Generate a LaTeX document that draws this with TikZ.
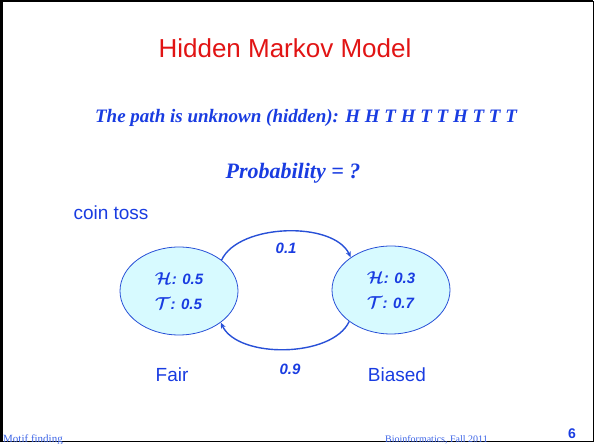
\documentclass[tikz,border=0pt]{standalone}
\usepackage{fontspec}
\setmainfont{Liberation Serif}
\setsansfont{Liberation Sans}
\usepackage{amsmath}
\usetikzlibrary{arrows.meta,shapes.geometric,positioning}
\definecolor{myred}{RGB}{225,20,20}
\definecolor{myblue}{RGB}{25,60,225}
\definecolor{myfoot}{RGB}{60,100,230}
\definecolor{mycyan}{RGB}{215,250,255}
\definecolor{myline}{RGB}{40,80,215}

\tikzset{
  state/.style={ellipse,draw=myline,fill=mycyan,thick,minimum width=118pt,
    minimum height=88pt,inner sep=0pt,align=left,text=myblue,
    font=\sffamily\bfseries\itshape\fontsize{15}{25}\selectfont},
  trans/.style={myline,line width=1.4pt,-{Stealth[length=6pt,width=5pt]},looseness=0.8},
  prob/.style={text=myblue,font=\sffamily\bfseries\itshape\fontsize{15}{17}\selectfont},
  lbl/.style={text=myblue,font=\sffamily\fontsize{19}{22}\selectfont},
  head/.style={text=myblue,font=\bfseries\itshape\fontsize{19}{22}\selectfont},
  foot/.style={text=myfoot,font=\fontsize{11}{12}\selectfont}
}
\newcommand{\bigsym}[1]{{\fontsize{17}{20}\selectfont\boldmath$\mathcal{#1}$}}

\begin{document}
\begin{tikzpicture}[x=1pt,y=1pt]
  \useasboundingbox (0,0) rectangle (594,444);
  % --- slide frame ---
  \draw[line width=2.5pt] (1.25,2) -- (1.25,442.75) -- (593,442.75);
  \draw[line width=1pt] (1.25,2) -- (593,2) -- (593,442.75);
  % --- title and questions ---
  \node[text=myred,font=\sffamily\fontsize{26}{30}\selectfont] (title) at (285,396) {Hidden Markov Model};
  \node[head] (path) at (306,326) {The path is unknown (hidden): H H T H T T H T T T};
  \node[head,font=\bfseries\itshape\fontsize{22}{26}\selectfont] (query) at (293,271) {Probability = ?};
  \node[lbl,anchor=west] (coin) at (70,231) {coin toss};
  % --- the two states ---
  \node[state] (fair) at (179,153) {\bigsym{H}: 0.5\\\bigsym{T}: 0.5};
  \node[state] (biased) at (391,154) {\bigsym{H}: 0.3\\\bigsym{T}: 0.7};
  \node[lbl] (fairlbl) at (172,69) {Fair};
  \node[lbl] (biasedlbl) at (397,69) {Biased};
  % --- transitions ---
  \draw[trans] (fair.36) to[out=65,in=115] node[prob,below=8pt] (p01) {0.1} (biased.141);
  \draw[trans] (biased.217) to[out=-115,in=-65] node[prob,below=11pt,xshift=5pt] (p09) {0.9} (fair.323);
  % --- footer ---
  \node[foot,anchor=base west,inner sep=0pt] (footl) at (3,1) {Motif finding};
  \node[foot,anchor=base east,inner sep=0pt,font=\fontsize{10}{12}\selectfont] (footr) at (488,1) {Bioinformatics, Fall 2011};
  \node[text=myblue,font=\sffamily\bfseries\fontsize{14}{16}\selectfont] (page) at (572,10) {6};
\end{tikzpicture}
\end{document}
